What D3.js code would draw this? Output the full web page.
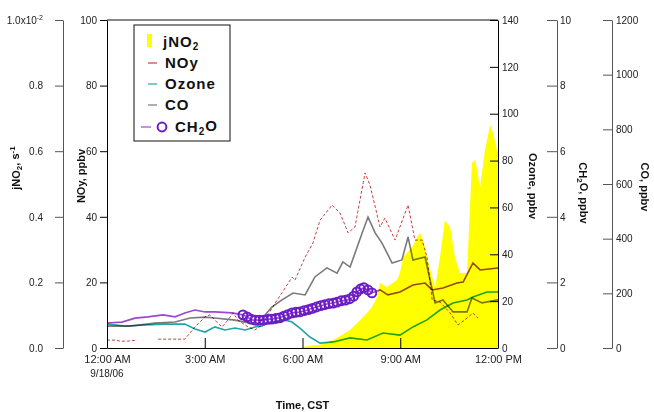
<!DOCTYPE html>
<html>
<head>
<meta charset="utf-8">
<script src="https://cdn.jsdelivr.net/npm/d3@7"></script>
<style>
  body { margin: 0; background: #fff; }
  svg { font-family: Arial, "Liberation Sans", sans-serif; }
  .tick text { font-size: 10px; fill: #222; }
  .title { font-size: 11px; font-weight: bold; fill: #111; }
  .leg { font-size: 15px; font-weight: bold; fill: #111; letter-spacing: 1px; }
  .blend { mix-blend-mode: multiply; }
</style>
</head>
<body>
<div id="chart"></div>
<script>
// hours after midnight, 9/18/06
var xTicks = [0, 3, 6, 9, 12];
var xLabels = ["12:00 AM", "3:00 AM", "6:00 AM", "9:00 AM", "12:00 PM"];

// jNO2, s-1
var jno2 = [[5.92,0],[6.14,0.00006],[6.54,0.0001],[6.94,0.00024],[7.46,0.00055],[7.77,0.00085],
  [7.98,0.00107],[8.13,0.00125],[8.29,0.00155],[8.38,0.00198],[8.59,0.00186],[8.90,0.00207],
  [8.99,0.00229],[9.09,0.00277],[9.36,0.00308],[9.52,0.00338],[9.61,0.00351],[9.70,0.00329],
  [9.82,0.00277],[9.98,0.00216],[10.07,0.00186],[10.22,0.00277],[10.37,0.0039],[10.53,0.00369],
  [10.68,0.00277],[10.83,0.00229],[11.05,0.00229],[11.20,0.00564],[11.30,0.00573],[11.45,0.00491],
  [11.60,0.00604],[11.76,0.0068],[11.85,0.00655],[11.97,0.00604],[12,0.00604]];

// NOy, ppbv (null = no data)
var noy = [[0,2.4],[0.25,2.4],[0.40,2.1],[0.64,2.1],[0.92,2.4],[1.2,null],[1.57,2.7],[2.0,2.7],
  [2.39,2.7],[2.70,6.4],[3.01,9.5],[3.16,10.1],[3.31,8.5],[3.53,6.4],[3.71,8.5],[3.87,10.7],
  [4.02,8.5],[4.33,6.4],[4.54,5.5],[4.76,7.0],[4.94,10.1],[5.16,13.7],[5.37,16.8],[5.68,21.6],
  [5.77,20.7],[6.08,27.7],[6.32,32.0],[6.54,39.0],[6.91,43.6],[7.15,41.2],[7.40,35.1],[7.61,36.9],
  [7.92,53.4],[8.07,49.7],[8.38,36.9],[8.53,39.6],[8.84,32.9],[9.24,43.6],[9.45,32.9],[9.67,32.9],
  [9.82,27.7],[9.98,14.6],[10.22,14.0],[10.53,10.7],[10.77,7.0],[11.05,9.1],[11.23,10.7],[11.39,9.1]];

// Ozone, ppbv
var ozone = [[0,10.2],[0.55,9.4],[1.17,9.8],[1.78,10.2],[2.39,10.2],[2.70,8.1],[3.01,6.8],[3.31,9.0],
  [3.62,7.7],[3.93,8.5],[4.24,7.7],[4.54,9.0],[4.76,9.4],[5.0,11.1],[5.46,12.0],[5.68,11.1],
  [5.92,8.5],[6.23,4.7],[6.54,2.1],[6.94,2.6],[7.46,4.3],[7.98,3.4],[8.47,6.4],[8.99,5.5],
  [9.39,9.0],[9.82,12.0],[10.22,16.2],[10.62,19.2],[11.05,20.5],[11.23,21.8],[11.66,23.9],[12,23.9]];

// CO, ppbv
var co = [[0,80],[0.71,80],[1.47,91],[2.09,95],[2.55,110],[3.01,113],[3.31,110],[3.93,102],
  [4.39,91],[4.63,84],[4.85,121],[5.06,150],[5.37,176],[5.71,201],[6.08,194],[6.38,260],
  [6.75,293],[7.06,274],[7.24,315],[7.46,296],[7.83,421],[8.01,479],[8.23,421],[8.44,384],
  [8.75,311],[9.05,322],[9.24,406],[9.39,322],[9.76,333],[10.07,165],[10.31,176],[10.62,132],
  [11.05,132],[11.20,183],[11.51,165],[12,176]];

// CH2O, ppbv: continuous record and the sampled points (circles)
var ch2oLine = [[0,0.76],[0.46,0.79],[0.86,0.91],[1.26,0.95],[1.72,1.01],[2.09,0.95],[2.39,1.07],
  [2.70,1.16],[3.01,1.10],[3.31,1.10],[3.84,1.07],[4.17,1.01],[4.48,0.85],[4.76,0.85],[5.0,0.88],
  [5.25,0.91],[5.46,0.98],[5.68,1.07],[5.92,1.10],[6.14,1.16],[6.32,1.22],[6.54,1.28],[6.75,1.34],
  [6.94,1.37],[7.15,1.43],[7.37,1.46],[7.55,1.55],[7.67,1.71],[7.86,1.83],[8.01,1.77],[8.13,1.68],
  [8.38,1.77],[8.62,1.62],[8.99,1.71],[9.39,1.92],[9.76,1.98],[9.98,1.77],[10.31,1.83],[10.74,1.98],
  [10.93,2.01],[11.23,2.59],[11.45,2.38],[12,2.44]];
var ch2oPts = [[4.17,1.01],[4.30,0.95],[4.42,0.88],[4.55,0.85],[4.68,0.85],[4.80,0.85],[4.93,0.87],
  [5.05,0.88],[5.18,0.90],[5.30,0.92],[5.43,0.97],[5.55,1.02],[5.68,1.07],[5.80,1.09],[5.92,1.10],
  [6.05,1.14],[6.18,1.17],[6.30,1.21],[6.43,1.25],[6.56,1.29],[6.68,1.32],[6.81,1.35],[6.94,1.37],
  [7.06,1.40],[7.19,1.44],[7.32,1.46],[7.45,1.50],[7.57,1.58],[7.67,1.71],[7.78,1.80],[7.88,1.84],
  [8.01,1.77],[8.13,1.68]];

var svg = d3.select("#chart").append("svg")
    .attr("width", 654)
    .attr("height", 412);

// plot box (window.top is reserved, hence the names)
var pLeft = 107, pRight = 498, pTop = 20, pBottom = 348;

var x = d3.scaleLinear().domain([0, 12]).range([pLeft, pRight]);
var yNoy = d3.scaleLinear().domain([0, 100]).range([pBottom, pTop]);
var yO3 = d3.scaleLinear().domain([0, 140]).range([pBottom, pTop]);
var yCh2o = d3.scaleLinear().domain([0, 10]).range([pBottom, pTop]);
var yCo = d3.scaleLinear().domain([0, 1200]).range([pBottom, pTop]);
var yJ = d3.scaleLinear().domain([0, 0.01]).range([pBottom, pTop]);

// jNO2 filled area
svg.append("path")
    .datum(jno2)
    .attr("fill", "#ffff00")
    .attr("d", d3.area()
        .x(function(d) { return x(d[0]); })
        .y0(yJ(0))
        .y1(function(d) { return yJ(d[1]); }));

function lineFor(scale) {
    return d3.line()
        .defined(function(d) { return d[1] != null; })
        .x(function(d) { return x(d[0]); })
        .y(function(d) { return scale(d[1]); });
}

var lines = svg.append("g");
lines.append("path").datum(ch2oLine).attr("class", "blend")
    .attr("fill", "none").attr("stroke", "#9a48d0").attr("stroke-width", 1.6)
    .attr("d", lineFor(yCh2o));
lines.append("path").datum(ozone).attr("class", "blend")
    .attr("fill", "none").attr("stroke", "#22a4a8").attr("stroke-width", 1.6)
    .attr("d", lineFor(yO3));
lines.append("path").datum(co).attr("class", "blend")
    .attr("fill", "none").attr("stroke", "#7a7a7a").attr("stroke-width", 1.6)
    .attr("d", lineFor(yCo));
lines.append("path").datum(noy).attr("class", "blend")
    .attr("fill", "none").attr("stroke", "#c84040").attr("stroke-width", 1)
    .attr("stroke-dasharray", "3,2")
    .attr("d", lineFor(yNoy));

svg.append("g").selectAll("circle")
    .data(ch2oPts)
    .enter()
    .append("circle")
    .attr("cx", function(d) { return x(d[0]); })
    .attr("cy", function(d) { return yCh2o(d[1]); })
    .attr("r", 4.4)
    .attr("fill", "none")
    .attr("stroke", "#6c1cc4")
    .attr("stroke-width", 2);

// frame top
svg.append("line")
    .attr("x1", pLeft).attr("x2", pRight).attr("y1", pTop).attr("y2", pTop)
    .attr("stroke", "#111");

// axes
svg.append("g")
    .attr("transform", "translate(" + pLeft + ",0)")
    .call(d3.axisLeft(yNoy).tickValues([0, 20, 40, 60, 80, 100]).tickSize(7).tickSizeOuter(0).tickPadding(3));

var gx = svg.append("g")
    .attr("transform", "translate(0," + pBottom + ")")
    .call(d3.axisBottom(x).tickValues(xTicks).tickSize(-10).tickSizeOuter(0)
        .tickFormat(function(d, i) { return xLabels[i]; }));
gx.selectAll(".tick text").style("font-size", "11px").attr("y", 7);

svg.append("g")
    .attr("transform", "translate(" + pRight + ",0)")
    .call(d3.axisRight(yO3).tickValues([0, 20, 40, 60, 80, 100, 120, 140]).tickSize(-8).tickSizeOuter(0).tickPadding(4));

var jAxis = svg.append("g")
    .attr("transform", "translate(63,0)")
    .call(d3.axisLeft(yJ).tickValues([0, 0.002, 0.004, 0.006, 0.008, 0.01]).tickSize(8).tickSizeOuter(0).tickPadding(12)
        .tickFormat(function(d) { return d === 0.01 ? "1.0x10" : (d * 100).toFixed(1); }));
jAxis.selectAll(".tick text").filter(function(d) { return d === 0.01; })
    .append("tspan").attr("dy", "-0.6em").style("font-size", "7px").text("-2");

var gCh = svg.append("g")
    .attr("transform", "translate(557,0)")
    .call(d3.axisRight(yCh2o).tickValues([0, 2, 4, 6, 8, 10]).tickSize(-10).tickSizeOuter(0).tickPadding(3));

var gCo = svg.append("g")
    .attr("transform", "translate(612,0)")
    .call(d3.axisRight(yCo).tickValues([0, 200, 400, 600, 800, 1000, 1200]).tickSize(-9).tickSizeOuter(0).tickPadding(4)
        .tickFormat(d3.format("d")));

[jAxis, gCh, gCo].forEach(function(g) {
    g.select(".domain").attr("stroke", "#555");
    g.selectAll(".tick line").attr("stroke", "#555");
});

// date under first time label
svg.append("text")
    .attr("x", x(0)).attr("y", 377)
    .attr("text-anchor", "middle")
    .style("font-size", "10px")
    .attr("fill", "#222")
    .text("9/18/06");

// axis titles
svg.append("text").attr("class", "title")
    .attr("x", x(6)).attr("y", 409).attr("text-anchor", "middle")
    .text("Time, CST");

function vTitle(cx, cy, angle, build) {
    var t = svg.append("text").attr("class", "title")
        .attr("text-anchor", "middle")
        .attr("transform", "translate(" + cx + "," + cy + ") rotate(" + angle + ")")
        .attr("dy", "0.35em");
    build(t);
}

vTitle(16, 168, -90, function(t) {
    t.append("tspan").text("jNO");
    t.append("tspan").attr("dy", "0.3em").style("font-size", "8px").text("2");
    t.append("tspan").attr("dy", "-0.3em").text(", s");
    t.append("tspan").attr("dy", "-0.5em").style("font-size", "8px").text("-1");
});
vTitle(81, 176, -90, function(t) { t.text("NOy, ppbv"); });
vTitle(533, 186, 90, function(t) { t.text("Ozone, ppbv"); });
vTitle(583, 193, 90, function(t) {
    t.append("tspan").text("CH");
    t.append("tspan").attr("dy", "0.3em").style("font-size", "8px").text("2");
    t.append("tspan").attr("dy", "-0.3em").text("O, ppbv");
});
vTitle(645, 187, 90, function(t) { t.text("CO, ppbv"); });

// legend
var leg = svg.append("g");
leg.append("rect")
    .attr("x", 134).attr("y", 25).attr("width", 96).attr("height", 116)
    .attr("fill", "#fff").attr("stroke", "#111");

leg.append("rect").attr("x", 147).attr("y", 34).attr("width", 5).attr("height", 13).attr("fill", "#ffff00");
var legItems = [
    { y: 63, color: "#c84040", label: "NOy" },
    { y: 84, color: "#22a4a8", label: "Ozone" },
    { y: 105, color: "#7a7a7a", label: "CO" }
];
legItems.forEach(function(it) {
    leg.append("line").attr("x1", 148).attr("x2", 157).attr("y1", it.y).attr("y2", it.y)
        .attr("stroke", it.color).attr("stroke-width", 1.2);
    leg.append("text").attr("class", "leg").attr("x", 165).attr("y", it.y).attr("dy", "0.35em").text(it.label);
});
var jt = leg.append("text").attr("class", "leg").attr("x", 163).attr("y", 42).attr("dy", "0.35em");
jt.append("tspan").text("jNO");
jt.append("tspan").attr("dy", "0.3em").style("font-size", "10px").text("2");

leg.append("line").attr("x1", 141).attr("x2", 151).attr("y1", 127).attr("y2", 127)
    .attr("stroke", "#9a48d0").attr("stroke-width", 1.2);
leg.append("circle").attr("cx", 162).attr("cy", 127).attr("r", 4.4)
    .attr("fill", "none").attr("stroke", "#6c1cc4").attr("stroke-width", 2);
var ct = leg.append("text").attr("class", "leg").attr("x", 175).attr("y", 127).attr("dy", "0.35em");
ct.append("tspan").text("CH");
ct.append("tspan").attr("dy", "0.3em").style("font-size", "10px").text("2");
ct.append("tspan").attr("dy", "-0.3em").text("O");
</script>
</body>
</html>
